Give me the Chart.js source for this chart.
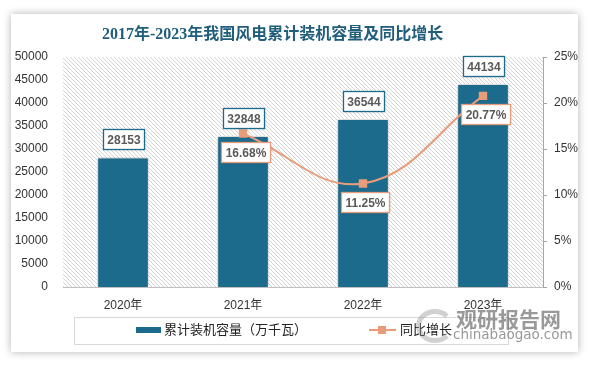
<!DOCTYPE html>
<html>
<head>
<meta charset="utf-8">
<script src="https://cdn.jsdelivr.net/npm/chart.js@4/dist/chart.umd.min.js"></script>
<style>
body { margin: 0; background: #fff; width: 594px; height: 366px; overflow: hidden; position: relative; font-family: "Liberation Sans", "Noto Sans CJK SC", sans-serif; }
#card { position: absolute; left: 11px; top: 14px; width: 567px; height: 338px; background: #fff; box-shadow: 0 0 8px rgba(0,0,0,0.3); }
#chart { position: absolute; left: 0; top: 0; }
#title { position: absolute; left: 102px; top: 24px; font: bold 16px "Liberation Serif", "Noto Sans CJK SC", serif; color: #215e7c; white-space: nowrap; line-height: 20px; }
#legend { position: absolute; left: 74px; top: 317px; width: 433px; height: 26px; border: 1px solid #d9d9d9; box-sizing: content-box; }
.lg { position: absolute; font-size: 13px; color: #222; white-space: nowrap; line-height: 16px; }
#wm1 { position: absolute; left: 456px; top: 303px; font: bold 21px "Noto Sans CJK SC", sans-serif; color: rgba(110,110,110,0.7); white-space: nowrap; }
#wm2 { position: absolute; left: 453px; top: 326px; font: 13.5px "DejaVu Sans", sans-serif; color: rgba(110,110,110,0.7); white-space: nowrap; }
#logo { position: absolute; left: 416px; top: 309px; width: 28px; height: 24px; border-radius: 50%; border: 5px solid rgba(140,140,140,0.4); border-right-color: transparent; }
</style>
</head>
<body>
<div id="card">
  <canvas id="chart" width="567" height="338"></canvas>
</div>
<div id="title">2017年-2023年我国风电累计装机容量及同比增长</div>
<div id="legend"></div>
<div style="position:absolute;left:136px;top:327px;width:25px;height:6px;background:#1d6b8c"></div>
<div class="lg" style="left:164px;top:322px">累计装机容量（万千瓦）</div>
<div style="position:absolute;left:369px;top:329px;width:27px;height:2px;background:#e89c7a"></div>
<div style="position:absolute;left:378px;top:326px;width:8px;height:8px;background:#e89c7a"></div>
<div class="lg" style="left:400px;top:322px">同比增长</div>
<div id="logo"></div>
<div id="wm1">观研报告网</div>
<div id="wm2">chinabaogao.com</div>
<script>
const years = ['2020年', '2021年', '2022年', '2023年'];
const capacity = [28153, 32848, 36544, 44134]; // 万千瓦
const growth = [null, 16.68, 11.25, 20.77]; // %

const barColor = '#1d6b8c';
const lineColor = '#e89c7a';

// diagonal hatch behind the plot area
const hatchBg = {
    id: 'hatchBg',
    beforeDraw(chart) {
        const { ctx, chartArea: a } = chart;
        const p = document.createElement('canvas');
        p.width = 4; p.height = 4;
        const pc = p.getContext('2d');
        pc.strokeStyle = '#d2d2d2';
        pc.lineWidth = 1;
        pc.beginPath();
        pc.moveTo(-1, -1); pc.lineTo(5, 5);
        pc.moveTo(-1, 3); pc.lineTo(1, 5);
        pc.moveTo(3, -1); pc.lineTo(5, 1);
        pc.stroke();
        ctx.save();
        ctx.fillStyle = ctx.createPattern(p, 'repeat');
        ctx.fillRect(a.left, a.top, a.right - a.left, a.bottom - a.top);
        ctx.restore();
    }
};

// soft shadow on the bars
const barShadow = {
    id: 'barShadow',
    beforeDatasetDraw(chart, args) {
        if (args.index !== 0) return;
        const ctx = chart.ctx;
        ctx.save();
        ctx.shadowColor = 'rgba(0,0,0,0.35)';
        ctx.shadowBlur = 4;
    },
    afterDatasetDraw(chart, args) {
        if (args.index !== 0) return;
        chart.ctx.restore();
    }
};

function drawBox(ctx, text, cx, y, border, above) {
    ctx.font = 'bold 12px "Liberation Sans", sans-serif';
    const w = Math.round(ctx.measureText(text).width + 8);
    const h = 20;
    const left = Math.round(cx - w / 2) + 0.5;
    const top = Math.round(above ? y - h : y) + 0.5;
    ctx.save();
    ctx.shadowColor = 'rgba(0,0,0,0.2)';
    ctx.shadowBlur = 3;
    ctx.fillStyle = '#fff';
    ctx.fillRect(left, top, w, h);
    ctx.restore();
    ctx.strokeStyle = border;
    ctx.lineWidth = 1.3;
    ctx.strokeRect(left, top, w, h);
    ctx.fillStyle = '#595959';
    ctx.textAlign = 'center';
    ctx.textBaseline = 'middle';
    ctx.fillText(text, left + w / 2, top + h / 2 + 1);
}

const valueLabels = {
    id: 'valueLabels',
    afterDatasetsDraw(chart) {
        const ctx = chart.ctx;
        chart.getDatasetMeta(0).data.forEach((bar, i) => {
            drawBox(ctx, String(capacity[i]), bar.x, bar.y - 8, barColor, true);
        });
        chart.getDatasetMeta(1).data.forEach((pt, i) => {
            if (growth[i] == null) return;
            drawBox(ctx, growth[i].toFixed(2) + '%', pt.x + 2, pt.y + 8, lineColor, false);
        });
    }
};

const tickFont = { family: '"Liberation Sans", "Noto Sans CJK SC", sans-serif', size: 12 };

new Chart(document.getElementById('chart'), {
    type: 'bar',
    data: {
        labels: years,
        datasets: [{
            type: 'bar',
            label: '累计装机容量（万千瓦）',
            data: capacity,
            backgroundColor: barColor,
            borderColor: '#ffffff',
            borderWidth: 1,
            barPercentage: 0.43,
            categoryPercentage: 1,
            yAxisID: 'y',
            order: 1
        }, {
            type: 'line',
            label: '同比增长',
            data: growth,
            borderColor: lineColor,
            backgroundColor: lineColor,
            borderWidth: 2,
            tension: 0.4,
            pointStyle: 'rect',
            pointRadius: 4.5,
            pointBackgroundColor: lineColor,
            pointBorderColor: lineColor,
            yAxisID: 'y1',
            order: 0
        }]
    },
    options: {
        responsive: false,
        animation: false,
        layout: { padding: { top: 43, left: 0, right: 0, bottom: 0 } },
        plugins: {
            legend: { display: false },
            tooltip: { enabled: false }
        },
        scales: {
            x: {
                grid: { display: false },
                border: { display: true, color: '#bfbfbf' },
                ticks: { font: tickFont, color: '#333', padding: 3 },
                afterFit(s) { s.height = 65; }
            },
            y: {
                position: 'left',
                min: 0,
                max: 50000,
                grid: { display: false },
                border: { display: false },
                ticks: { stepSize: 5000, font: tickFont, color: '#333', padding: 7, callback: v => String(v) },
                afterFit(s) { s.width = 52; }
            },
            y1: {
                position: 'right',
                min: 0,
                max: 25,
                grid: { display: true, drawOnChartArea: false, drawTicks: true, tickLength: 4, color: '#a6a6a6' },
                border: { display: true, color: '#a6a6a6' },
                ticks: { stepSize: 5, font: tickFont, color: '#333', padding: 7, callback: v => v + '%' },
                afterFit(s) { s.width = 35; }
            }
        }
    },
    plugins: [hatchBg, barShadow, valueLabels]
});
</script>
</body>
</html>
